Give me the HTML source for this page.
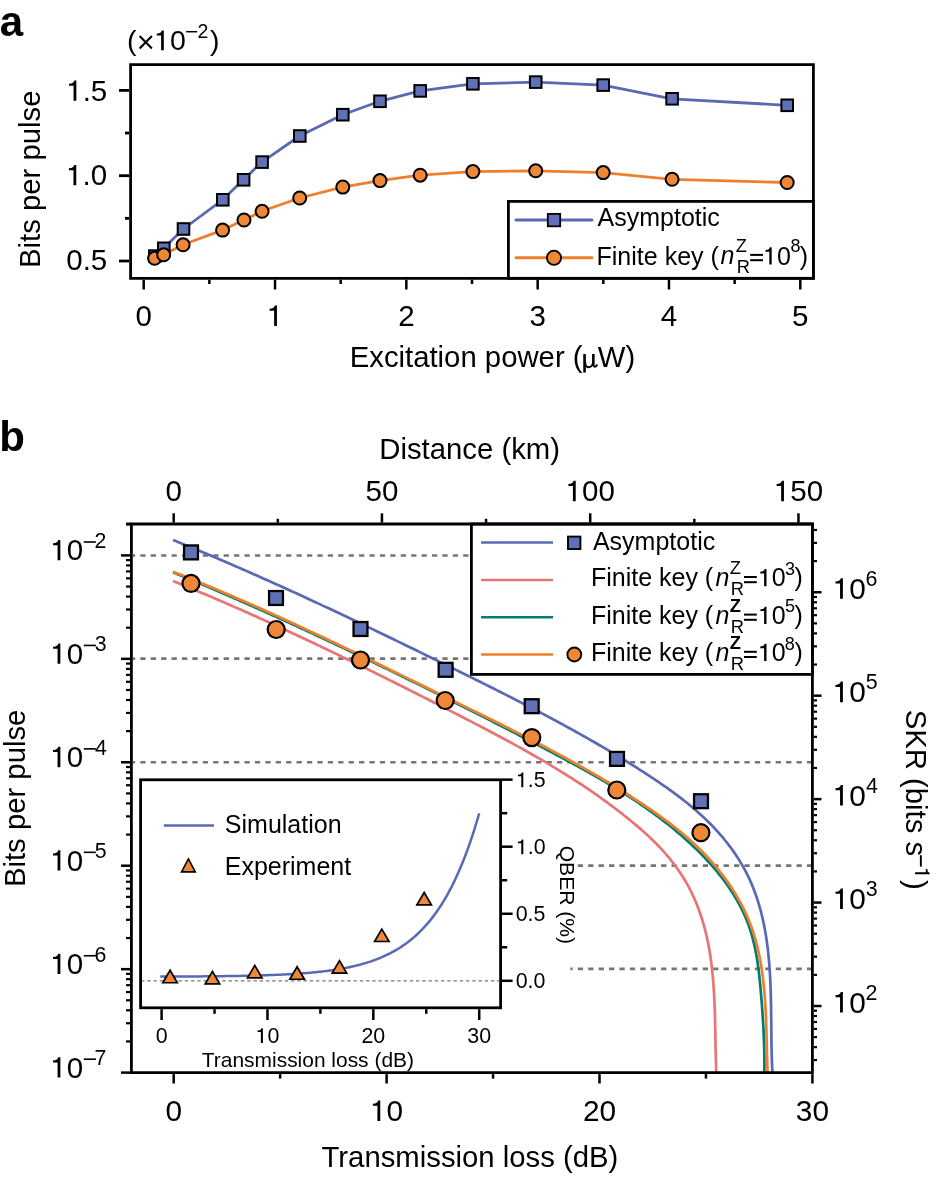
<!DOCTYPE html><html><head><meta charset="utf-8"><title>Figure</title><style>html,body{margin:0;padding:0;background:#fff;overflow:hidden}svg{display:block;will-change:transform}text{font-family:"Liberation Sans",sans-serif;fill:#000}</style></head><body>
<svg width="940" height="1181" viewBox="0 0 940 1181">
<rect width="940" height="1181" fill="#fff"/>
<text x="-0.23" y="36" font-size="42" font-weight="bold">a</text>
<path d="M154.6 256.1 L163.6 248.3 L183.3 229 L222.6 199.8 L243.4 179.8 L261.9 162.1 L299.6 136 L342.6 114.7 L379.8 101.3 L420 90.9 L472.7 83.8 L535.5 82.1 L603 85.1 L671.9 98.8 L787 105.3" fill="none" stroke="#5a69b4" stroke-width="2.8" stroke-linejoin="round"/>
<path d="M154.4 258.3 L163.5 254.8 L182.9 244.8 L222.4 230.1 L243.8 220 L261.9 211.3 L299.5 198 L342.6 187.1 L379.8 180.6 L420 175.2 L472.7 171.6 L535.5 170.8 L603 172.6 L671.9 179.3 L787 182.5" fill="none" stroke="#ee7f2d" stroke-width="2.8" stroke-linejoin="round"/>
<rect x="149" y="250.3" width="11.6" height="11.6" fill="#6271b7" stroke="#000" stroke-width="2"/>
<rect x="158" y="242.5" width="11.6" height="11.6" fill="#6271b7" stroke="#000" stroke-width="2"/>
<rect x="177.7" y="223.2" width="11.6" height="11.6" fill="#6271b7" stroke="#000" stroke-width="2"/>
<rect x="217" y="194" width="11.6" height="11.6" fill="#6271b7" stroke="#000" stroke-width="2"/>
<rect x="237.8" y="174" width="11.6" height="11.6" fill="#6271b7" stroke="#000" stroke-width="2"/>
<rect x="256.3" y="156.3" width="11.6" height="11.6" fill="#6271b7" stroke="#000" stroke-width="2"/>
<rect x="294" y="130.2" width="11.6" height="11.6" fill="#6271b7" stroke="#000" stroke-width="2"/>
<rect x="337" y="108.9" width="11.6" height="11.6" fill="#6271b7" stroke="#000" stroke-width="2"/>
<rect x="374.2" y="95.5" width="11.6" height="11.6" fill="#6271b7" stroke="#000" stroke-width="2"/>
<rect x="414.4" y="85.1" width="11.6" height="11.6" fill="#6271b7" stroke="#000" stroke-width="2"/>
<rect x="467.1" y="78" width="11.6" height="11.6" fill="#6271b7" stroke="#000" stroke-width="2"/>
<rect x="529.9" y="76.3" width="11.6" height="11.6" fill="#6271b7" stroke="#000" stroke-width="2"/>
<rect x="597.4" y="79.3" width="11.6" height="11.6" fill="#6271b7" stroke="#000" stroke-width="2"/>
<rect x="666.3" y="93" width="11.6" height="11.6" fill="#6271b7" stroke="#000" stroke-width="2"/>
<rect x="781.4" y="99.5" width="11.6" height="11.6" fill="#6271b7" stroke="#000" stroke-width="2"/>
<circle cx="154.6" cy="258.3" r="6.5" fill="#ee8737" stroke="#000" stroke-width="2"/>
<circle cx="163.7" cy="254.8" r="6.5" fill="#ee8737" stroke="#000" stroke-width="2"/>
<circle cx="183.1" cy="244.8" r="6.5" fill="#ee8737" stroke="#000" stroke-width="2"/>
<circle cx="222.6" cy="230.1" r="6.5" fill="#ee8737" stroke="#000" stroke-width="2"/>
<circle cx="244" cy="220" r="6.5" fill="#ee8737" stroke="#000" stroke-width="2"/>
<circle cx="262.1" cy="211.3" r="6.5" fill="#ee8737" stroke="#000" stroke-width="2"/>
<circle cx="299.7" cy="198" r="6.5" fill="#ee8737" stroke="#000" stroke-width="2"/>
<circle cx="342.8" cy="187.1" r="6.5" fill="#ee8737" stroke="#000" stroke-width="2"/>
<circle cx="380" cy="180.6" r="6.5" fill="#ee8737" stroke="#000" stroke-width="2"/>
<circle cx="420.2" cy="175.2" r="6.5" fill="#ee8737" stroke="#000" stroke-width="2"/>
<circle cx="472.9" cy="171.6" r="6.5" fill="#ee8737" stroke="#000" stroke-width="2"/>
<circle cx="535.7" cy="170.8" r="6.5" fill="#ee8737" stroke="#000" stroke-width="2"/>
<circle cx="603.2" cy="172.6" r="6.5" fill="#ee8737" stroke="#000" stroke-width="2"/>
<circle cx="672.1" cy="179.3" r="6.5" fill="#ee8737" stroke="#000" stroke-width="2"/>
<circle cx="787.2" cy="182.5" r="6.5" fill="#ee8737" stroke="#000" stroke-width="2"/>
<rect x="508.4" y="201.4" width="305" height="76.9" fill="#fff" stroke="#000" stroke-width="2.8"/>
<line x1="516" y1="220" x2="592" y2="220" stroke="#5a69b4" stroke-width="3" stroke-linecap="round"/>
<rect x="547.8" y="213.9" width="12.4" height="12.4" fill="#6271b7" stroke="#000" stroke-width="1.8"/>
<line x1="516" y1="257.8" x2="592" y2="257.8" stroke="#ee7f2d" stroke-width="3" stroke-linecap="round"/>
<circle cx="554" cy="257.8" r="7.1" fill="#ee8737" stroke="#000" stroke-width="1.8"/>
<text x="597.55" y="226" font-size="25">Asymptotic</text>
<text x="596.55" y="264.6" font-size="25">Finite key (</text>
<text x="720.38" y="264.4" font-size="25" font-style="italic">n</text>
<text x="735.72" y="251.9" font-size="18.3">Z</text>
<text x="736.8" y="272.8" font-size="18.3">R</text>
<rect x="750.2" y="253.9" width="12.8" height="2" fill="#000"/><rect x="750.2" y="259.2" width="12.8" height="2" fill="#000"/>
<path d="M0.248 0H0.343V0.69H0.272C0.258 0.622 0.215 0.588 0.095 0.58V0.512H0.248Z" transform="translate(763.12 264.6) scale(25 -25)"/>
<text x="777.03" y="264.6" font-size="25">0</text>
<text x="790.52" y="252" font-size="18">8</text>
<text x="799.63" y="264.6" font-size="25">)</text>
<path d="M130.6 64.7 H813.4 V278.3 H130.6 Z" fill="none" stroke="#000" stroke-width="2.8" stroke-linejoin="miter"/>
<line x1="143.7" y1="279.7" x2="143.7" y2="289.5" stroke="#000" stroke-width="2.5"/>
<text x="135.5" y="325.9" font-size="29.5">0</text>
<line x1="275.02" y1="279.7" x2="275.02" y2="289.5" stroke="#000" stroke-width="2.5"/>
<path d="M0.248 0H0.343V0.69H0.272C0.258 0.622 0.215 0.588 0.095 0.58V0.512H0.248Z" transform="translate(266.82 325.9) scale(29.5 -29.5)"/>
<line x1="406.34" y1="279.7" x2="406.34" y2="289.5" stroke="#000" stroke-width="2.5"/>
<text x="398.14" y="325.9" font-size="29.5">2</text>
<line x1="537.66" y1="279.7" x2="537.66" y2="289.5" stroke="#000" stroke-width="2.5"/>
<text x="529.46" y="325.9" font-size="29.5">3</text>
<line x1="668.98" y1="279.7" x2="668.98" y2="289.5" stroke="#000" stroke-width="2.5"/>
<text x="660.78" y="325.9" font-size="29.5">4</text>
<line x1="800.3" y1="279.7" x2="800.3" y2="289.5" stroke="#000" stroke-width="2.5"/>
<text x="792.1" y="325.9" font-size="29.5">5</text>
<line x1="209.36" y1="279.7" x2="209.36" y2="284" stroke="#000" stroke-width="2.5"/>
<line x1="340.68" y1="279.7" x2="340.68" y2="284" stroke="#000" stroke-width="2.5"/>
<line x1="472" y1="279.7" x2="472" y2="284" stroke="#000" stroke-width="2.5"/>
<line x1="603.32" y1="279.7" x2="603.32" y2="284" stroke="#000" stroke-width="2.5"/>
<line x1="734.64" y1="279.7" x2="734.64" y2="284" stroke="#000" stroke-width="2.5"/>
<line x1="119" y1="261" x2="129.2" y2="261" stroke="#000" stroke-width="2.8"/>
<text x="66.23" y="270.4" font-size="29.5">0.5</text>
<line x1="119" y1="175.7" x2="129.2" y2="175.7" stroke="#000" stroke-width="2.8"/>
<path d="M0.248 0H0.343V0.69H0.272C0.258 0.622 0.215 0.588 0.095 0.58V0.512H0.248Z" transform="translate(66.14 185.3) scale(29.5 -29.5)"/>
<text x="82.55" y="185.3" font-size="29.5">.0</text>
<line x1="119" y1="90.4" x2="129.2" y2="90.4" stroke="#000" stroke-width="2.8"/>
<path d="M0.248 0H0.343V0.69H0.272C0.258 0.622 0.215 0.588 0.095 0.58V0.512H0.248Z" transform="translate(66.23 100.8) scale(29.5 -29.5)"/>
<text x="82.64" y="100.8" font-size="29.5">.5</text>
<line x1="125" y1="218.35" x2="129.2" y2="218.35" stroke="#000" stroke-width="2.8"/>
<line x1="125" y1="133.05" x2="129.2" y2="133.05" stroke="#000" stroke-width="2.8"/>
<text x="127.03" y="50.2" font-size="28.5">(</text>
<line x1="139.6" y1="36.1" x2="151.9" y2="48.6" stroke="#000" stroke-width="2.1"/>
<line x1="151.9" y1="36.1" x2="139.6" y2="48.6" stroke="#000" stroke-width="2.1"/>
<path d="M0.248 0H0.343V0.69H0.272C0.258 0.622 0.215 0.588 0.095 0.58V0.512H0.248Z" transform="translate(154.04 50.2) scale(28.5 -28.5)"/>
<text x="169.89" y="50.2" font-size="28.5">0</text>
<rect x="186.1" y="30.95" width="11.1" height="1.5" fill="#000"/>
<text x="197.42" y="37.5" font-size="19.5">2</text>
<text x="209.98" y="50.2" font-size="28.5">)</text>
<text x="349.7" y="366.9" font-size="29.3">Excitation power (</text>
<path d="M584.55 353.9V372.6M593.35 353.9V364.8" fill="none" stroke="#000" stroke-width="2.6"/>
<path d="M585.2 362C585.2 366 586.6 367.2 588.4 367.2C590.4 367.2 592.9 365.8 593 362M593.6 364.6C593.8 367.3 595.6 367.6 597.4 364.6" fill="none" stroke="#000" stroke-width="1.9"/>
<text x="597.87" y="366.9" font-size="29.3">W)</text>
<text transform="translate(39.9 268) rotate(-90)" font-size="29.3">Bits per pulse</text>
<text x="-0.77" y="450.8" font-size="42" font-weight="bold">b</text>
<line x1="133" y1="555.5" x2="811" y2="555.5" stroke="#767676" stroke-width="2.6" stroke-dasharray="5.3 5.116" stroke-dashoffset="3.12"/>
<line x1="133" y1="658.6" x2="470" y2="658.6" stroke="#767676" stroke-width="2.6" stroke-dasharray="5.3 5.116" stroke-dashoffset="3.12"/>
<line x1="133" y1="762.2" x2="811" y2="762.2" stroke="#767676" stroke-width="2.6" stroke-dasharray="5.3 5.116" stroke-dashoffset="3.12"/>
<line x1="577.4" y1="865.6" x2="811" y2="865.6" stroke="#767676" stroke-width="2.6" stroke-dasharray="5.3 5.116" stroke-dashoffset="10.04"/>
<line x1="570.3" y1="968.9" x2="811" y2="968.9" stroke="#767676" stroke-width="2.6" stroke-dasharray="5.3 5.116" stroke-dashoffset="2.94"/>
<path d="M172.99 581 L175.46 582 L177.93 583.01 L180.4 584.01 L182.86 585.03 L185.33 586.04 L187.79 587.06 L190.25 588.08 L192.71 589.1 L195.17 590.12 L197.63 591.15 L200.09 592.18 L202.54 593.21 L205 594.25 L207.45 595.29 L209.9 596.33 L212.35 597.37 L214.8 598.42 L217.24 599.47 L219.69 600.52 L222.13 601.57 L224.58 602.63 L227.02 603.69 L229.46 604.75 L231.9 605.81 L234.34 606.88 L236.77 607.95 L239.21 609.02 L241.64 610.1 L244.07 611.17 L246.51 612.25 L248.94 613.33 L251.37 614.41 L253.79 615.5 L256.22 616.59 L258.65 617.68 L261.07 618.77 L263.5 619.86 L265.92 620.96 L268.34 622.06 L270.76 623.16 L273.18 624.27 L275.6 625.37 L278.01 626.48 L280.43 627.59 L282.85 628.7 L285.26 629.81 L287.67 630.93 L290.08 632.05 L292.5 633.17 L294.91 634.29 L297.31 635.42 L299.72 636.54 L302.13 637.67 L304.54 638.8 L306.94 639.93 L309.35 641.07 L311.75 642.2 L314.15 643.34 L316.55 644.48 L318.95 645.62 L321.35 646.76 L323.75 647.91 L326.15 649.05 L328.55 650.2 L330.94 651.35 L333.34 652.5 L335.73 653.66 L338.13 654.81 L340.52 655.97 L342.91 657.13 L345.31 658.29 L347.7 659.45 L350.09 660.61 L352.48 661.78 L354.87 662.94 L357.25 664.11 L359.64 665.28 L362.03 666.45 L364.41 667.63 L366.8 668.8 L369.18 669.98 L371.57 671.15 L373.95 672.33 L376.33 673.51 L378.72 674.69 L381.1 675.87 L383.48 677.06 L385.86 678.24 L388.24 679.43 L390.62 680.62 L393 681.8 L395.38 682.99 L397.75 684.19 L400.13 685.38 L402.51 686.57 L404.88 687.77 L407.26 688.96 L409.63 690.16 L412.01 691.36 L414.38 692.56 L416.76 693.76 L419.13 694.96 L421.5 696.16 L423.88 697.36 L426.25 698.57 L428.62 699.77 L430.99 700.98 L433.36 702.19 L435.73 703.4 L438.1 704.61 L440.47 705.82 L442.84 707.03 L445.21 708.24 L447.58 709.45 L449.95 710.67 L452.32 711.88 L454.69 713.1 L457.06 714.31 L459.42 715.53 L461.79 716.75 L464.16 717.97 L466.52 719.19 L468.89 720.41 L471.25 721.63 L473.62 722.86 L475.98 724.08 L478.34 725.31 L480.7 726.54 L483.06 727.78 L485.42 729.01 L487.78 730.25 L490.13 731.49 L492.49 732.74 L494.84 733.98 L497.19 735.23 L499.53 736.49 L501.88 737.75 L504.22 739.01 L506.56 740.27 L508.9 741.54 L511.24 742.81 L513.58 744.09 L515.91 745.37 L518.24 746.65 L520.56 747.94 L522.89 749.23 L525.21 750.53 L527.52 751.84 L529.84 753.15 L532.15 754.46 L534.46 755.78 L536.76 757.1 L539.06 758.43 L541.36 759.77 L543.66 761.11 L545.95 762.46 L548.23 763.81 L550.52 765.17 L552.79 766.54 L555.07 767.92 L557.34 769.3 L559.6 770.68 L561.87 772.08 L564.12 773.48 L566.37 774.89 L568.62 776.3 L570.86 777.73 L573.1 779.16 L575.34 780.6 L577.56 782.05 L579.79 783.5 L582 784.96 L584.22 786.44 L586.42 787.92 L588.63 789.41 L590.82 790.9 L593.01 792.41 L595.2 793.93 L597.37 795.45 L599.55 796.99 L601.71 798.53 L603.87 800.09 L606.03 801.65 L608.18 803.22 L610.32 804.81 L612.45 806.4 L614.58 808.01 L616.7 809.62 L618.82 811.25 L620.93 812.88 L623.03 814.53 L625.12 816.19 L627.21 817.86 L629.29 819.54 L631.36 821.23 L633.42 822.94 L635.48 824.65 L637.52 826.39 L639.55 828.13 L641.57 829.89 L643.57 831.66 L645.56 833.45 L647.53 835.26 L649.49 837.08 L651.42 838.93 L653.34 840.78 L655.24 842.66 L657.11 844.56 L658.96 846.48 L660.79 848.42 L662.59 850.38 L664.37 852.36 L666.12 854.36 L667.84 856.39 L669.54 858.43 L671.2 860.5 L672.84 862.59 L674.44 864.7 L676.02 866.83 L677.56 868.99 L679.07 871.16 L680.55 873.36 L682 875.58 L683.41 877.81 L684.79 880.07 L686.13 882.35 L687.43 884.65 L688.7 886.97 L689.93 889.31 L691.13 891.67 L692.29 894.05 L693.41 896.45 L694.49 898.86 L695.54 901.3 L696.55 903.75 L697.53 906.21 L698.48 908.69 L699.39 911.18 L700.27 913.69 L701.11 916.21 L701.92 918.74 L702.7 921.28 L703.45 923.83 L704.17 926.4 L704.86 928.97 L705.52 931.54 L706.15 934.13 L706.75 936.72 L707.32 939.32 L707.86 941.92 L708.38 944.54 L708.87 947.15 L709.34 949.77 L709.78 952.4 L710.2 955.03 L710.59 957.67 L710.96 960.31 L711.31 962.96 L711.65 965.61 L711.96 968.26 L712.25 970.92 L712.52 973.58 L712.77 976.24 L713.01 978.9 L713.23 981.57 L713.44 984.24 L713.63 986.91 L713.81 989.59 L713.97 992.26 L714.12 994.94 L714.26 997.61 L714.38 1000.29 L714.5 1002.97 L714.61 1005.65 L714.71 1008.32 L714.8 1011 L714.88 1013.68 L714.96 1016.36 L715.02 1019.03 L715.09 1021.7 L715.15 1024.38 L715.2 1027.05 L715.26 1029.71 L715.31 1032.38 L715.36 1035.04 L715.41 1037.7 L715.45 1040.36 L715.5 1043.01 L715.55 1045.66 L715.6 1048.31 L715.66 1050.95 L715.72 1053.58 L715.78 1056.22 L715.85 1058.84 L715.92 1061.47 L716 1064.08 L716.09 1066.69 L716.18 1069.3 L716.29 1071.9" fill="none" stroke="#e87575" stroke-width="2.7" stroke-linejoin="round"/>
<path d="M173.01 572.29 L175.59 573.35 L178.17 574.42 L180.75 575.48 L183.33 576.55 L185.9 577.62 L188.48 578.7 L191.05 579.78 L193.63 580.86 L196.2 581.94 L198.77 583.02 L201.34 584.11 L203.92 585.2 L206.48 586.29 L209.05 587.38 L211.62 588.48 L214.19 589.58 L216.75 590.68 L219.32 591.78 L221.88 592.89 L224.45 594 L227.01 595.11 L229.57 596.22 L232.13 597.33 L234.69 598.45 L237.25 599.57 L239.81 600.69 L242.37 601.81 L244.92 602.94 L247.48 604.06 L250.03 605.19 L252.59 606.33 L255.14 607.46 L257.69 608.6 L260.24 609.73 L262.79 610.87 L265.34 612.02 L267.89 613.16 L270.44 614.31 L272.99 615.45 L275.53 616.6 L278.08 617.76 L280.62 618.91 L283.17 620.06 L285.71 621.22 L288.25 622.38 L290.79 623.54 L293.33 624.71 L295.87 625.87 L298.41 627.04 L300.95 628.21 L303.49 629.38 L306.03 630.55 L308.56 631.72 L311.1 632.9 L313.63 634.08 L316.16 635.25 L318.7 636.44 L321.23 637.62 L323.76 638.8 L326.29 639.99 L328.82 641.18 L331.35 642.36 L333.88 643.55 L336.4 644.75 L338.93 645.94 L341.46 647.14 L343.98 648.33 L346.51 649.53 L349.03 650.73 L351.55 651.93 L354.07 653.14 L356.59 654.34 L359.11 655.54 L361.63 656.75 L364.15 657.96 L366.67 659.17 L369.19 660.38 L371.71 661.59 L374.22 662.81 L376.74 664.02 L379.25 665.24 L381.77 666.46 L384.28 667.68 L386.79 668.9 L389.3 670.12 L391.81 671.34 L394.32 672.57 L396.83 673.79 L399.34 675.02 L401.85 676.25 L404.36 677.48 L406.87 678.71 L409.37 679.94 L411.88 681.17 L414.38 682.4 L416.89 683.64 L419.39 684.87 L421.89 686.11 L424.39 687.35 L426.89 688.59 L429.4 689.83 L431.9 691.07 L434.39 692.31 L436.89 693.55 L439.39 694.79 L441.89 696.04 L444.38 697.28 L446.88 698.53 L449.38 699.78 L451.87 701.03 L454.36 702.28 L456.86 703.53 L459.35 704.78 L461.84 706.03 L464.33 707.28 L466.83 708.54 L469.32 709.8 L471.81 711.05 L474.3 712.31 L476.78 713.57 L479.27 714.83 L481.76 716.1 L484.25 717.36 L486.73 718.63 L489.22 719.89 L491.7 721.16 L494.19 722.43 L496.67 723.7 L499.16 724.97 L501.64 726.25 L504.12 727.52 L506.61 728.8 L509.09 730.08 L511.57 731.36 L514.05 732.64 L516.53 733.92 L519.01 735.21 L521.49 736.5 L523.97 737.78 L526.45 739.07 L528.93 740.37 L531.41 741.66 L533.88 742.96 L536.36 744.25 L538.84 745.55 L541.31 746.85 L543.79 748.16 L546.27 749.46 L548.74 750.77 L551.22 752.08 L553.69 753.39 L556.16 754.7 L558.64 756.02 L561.11 757.34 L563.58 758.66 L566.05 759.99 L568.51 761.32 L570.98 762.65 L573.44 763.99 L575.9 765.33 L578.36 766.68 L580.81 768.03 L583.26 769.39 L585.71 770.76 L588.15 772.13 L590.59 773.5 L593.03 774.88 L595.46 776.27 L597.89 777.67 L600.31 779.07 L602.73 780.48 L605.14 781.9 L607.55 783.33 L609.95 784.76 L612.34 786.2 L614.73 787.65 L617.12 789.12 L619.49 790.59 L621.86 792.06 L624.23 793.55 L626.58 795.05 L628.93 796.56 L631.27 798.08 L633.61 799.61 L635.93 801.16 L638.25 802.71 L640.56 804.27 L642.86 805.85 L645.16 807.44 L647.44 809.04 L649.71 810.66 L651.98 812.28 L654.23 813.92 L656.48 815.58 L658.71 817.24 L660.94 818.92 L663.15 820.62 L665.35 822.33 L667.55 824.05 L669.73 825.79 L671.9 827.55 L674.05 829.32 L676.2 831.11 L678.33 832.91 L680.46 834.73 L682.56 836.56 L684.66 838.41 L686.74 840.28 L688.82 842.17 L690.87 844.07 L692.92 845.99 L694.95 847.93 L696.96 849.89 L698.96 851.87 L700.94 853.86 L702.91 855.88 L704.85 857.91 L706.78 859.96 L708.68 862.03 L710.56 864.11 L712.42 866.22 L714.26 868.34 L716.07 870.49 L717.86 872.65 L719.61 874.83 L721.34 877.03 L723.05 879.25 L724.72 881.49 L726.36 883.75 L727.97 886.02 L729.55 888.32 L731.09 890.64 L732.6 892.97 L734.07 895.33 L735.51 897.7 L736.9 900.1 L738.26 902.51 L739.58 904.95 L740.86 907.4 L742.1 909.87 L743.29 912.37 L744.44 914.88 L745.55 917.42 L746.61 919.97 L747.62 922.55 L748.59 925.14 L749.51 927.76 L750.38 930.4 L751.2 933.05 L751.98 935.72 L752.71 938.41 L753.4 941.12 L754.06 943.84 L754.67 946.57 L755.25 949.32 L755.79 952.08 L756.31 954.84 L756.79 957.62 L757.24 960.41 L757.66 963.2 L758.06 966 L758.44 968.8 L758.79 971.61 L759.12 974.42 L759.44 977.23 L759.73 980.04 L760.01 982.85 L760.28 985.66 L760.54 988.47 L760.79 991.28 L761.02 994.08 L761.26 996.87 L761.48 999.66 L761.7 1002.44 L761.92 1005.22 L762.12 1007.99 L762.32 1010.76 L762.51 1013.53 L762.7 1016.29 L762.88 1019.06 L763.05 1021.82 L763.21 1024.58 L763.36 1027.34 L763.5 1030.1 L763.63 1032.86 L763.75 1035.63 L763.87 1038.39 L763.97 1041.16 L764.06 1043.94 L764.14 1046.71 L764.21 1049.49 L764.27 1052.28 L764.31 1055.07 L764.35 1057.87 L764.37 1060.68 L764.37 1063.49 L764.37 1066.32 L764.35 1069.15 L764.32 1071.99" fill="none" stroke="#007d73" stroke-width="2.7" stroke-linejoin="round"/>
<path d="M172.99 571.7 L175.6 572.73 L178.21 573.76 L180.82 574.8 L183.43 575.84 L186.04 576.89 L188.64 577.93 L191.24 578.99 L193.84 580.04 L196.44 581.1 L199.04 582.17 L201.63 583.23 L204.22 584.3 L206.82 585.38 L209.41 586.46 L211.99 587.54 L214.58 588.62 L217.16 589.71 L219.75 590.8 L222.33 591.9 L224.91 593 L227.48 594.1 L230.06 595.2 L232.64 596.31 L235.21 597.42 L237.78 598.54 L240.35 599.66 L242.92 600.78 L245.49 601.9 L248.05 603.03 L250.62 604.16 L253.18 605.29 L255.74 606.43 L258.3 607.56 L260.86 608.71 L263.42 609.85 L265.98 611 L268.53 612.15 L271.08 613.3 L273.64 614.45 L276.19 615.61 L278.74 616.77 L281.29 617.93 L283.84 619.1 L286.38 620.26 L288.93 621.43 L291.47 622.6 L294.02 623.78 L296.56 624.95 L299.1 626.13 L301.64 627.31 L304.18 628.5 L306.72 629.68 L309.26 630.87 L311.79 632.06 L314.33 633.25 L316.86 634.44 L319.4 635.64 L321.93 636.83 L324.46 638.03 L327 639.23 L329.53 640.43 L332.06 641.64 L334.58 642.84 L337.11 644.05 L339.64 645.26 L342.17 646.47 L344.69 647.68 L347.22 648.89 L349.74 650.11 L352.27 651.33 L354.79 652.54 L357.32 653.76 L359.84 654.98 L362.36 656.2 L364.88 657.43 L367.4 658.65 L369.92 659.87 L372.44 661.1 L374.96 662.33 L377.48 663.55 L380 664.78 L382.52 666.01 L385.04 667.24 L387.56 668.48 L390.07 669.71 L392.59 670.94 L395.11 672.18 L397.62 673.41 L400.14 674.65 L402.66 675.88 L405.17 677.12 L407.69 678.35 L410.2 679.59 L412.72 680.83 L415.23 682.07 L417.75 683.31 L420.26 684.55 L422.78 685.79 L425.29 687.03 L427.81 688.27 L430.32 689.51 L432.84 690.75 L435.35 691.99 L437.87 693.23 L440.38 694.47 L442.9 695.71 L445.41 696.95 L447.93 698.19 L450.44 699.43 L452.96 700.67 L455.47 701.91 L457.99 703.15 L460.51 704.39 L463.02 705.63 L465.54 706.87 L468.06 708.11 L470.57 709.35 L473.09 710.59 L475.6 711.83 L478.12 713.08 L480.63 714.32 L483.15 715.56 L485.66 716.81 L488.17 718.05 L490.68 719.3 L493.2 720.55 L495.71 721.8 L498.22 723.05 L500.73 724.31 L503.23 725.56 L505.74 726.82 L508.25 728.08 L510.75 729.34 L513.25 730.61 L515.75 731.88 L518.25 733.14 L520.75 734.42 L523.25 735.69 L525.75 736.97 L528.24 738.25 L530.73 739.53 L533.22 740.82 L535.71 742.11 L538.2 743.41 L540.68 744.7 L543.16 746 L545.64 747.31 L548.12 748.62 L550.59 749.93 L553.07 751.25 L555.54 752.57 L558 753.89 L560.47 755.22 L562.93 756.56 L565.39 757.9 L567.85 759.24 L570.3 760.59 L572.75 761.95 L575.2 763.31 L577.65 764.67 L580.09 766.04 L582.53 767.42 L584.96 768.8 L587.4 770.18 L589.82 771.58 L592.25 772.98 L594.67 774.38 L597.09 775.79 L599.5 777.21 L601.91 778.63 L604.32 780.06 L606.72 781.5 L609.12 782.94 L611.52 784.39 L613.91 785.85 L616.3 787.32 L618.68 788.79 L621.06 790.27 L623.43 791.76 L625.8 793.25 L628.16 794.75 L630.52 796.26 L632.88 797.78 L635.23 799.31 L637.58 800.84 L639.92 802.38 L642.26 803.93 L644.59 805.49 L646.91 807.06 L649.23 808.64 L651.55 810.22 L653.85 811.82 L656.15 813.43 L658.44 815.05 L660.72 816.69 L662.99 818.34 L665.25 820 L667.5 821.67 L669.74 823.36 L671.97 825.07 L674.18 826.79 L676.38 828.53 L678.57 830.29 L680.74 832.07 L682.9 833.86 L685.04 835.67 L687.17 837.51 L689.27 839.36 L691.36 841.24 L693.44 843.13 L695.49 845.05 L697.52 847 L699.54 848.96 L701.53 850.95 L703.5 852.95 L705.45 854.98 L707.38 857.03 L709.28 859.1 L711.16 861.2 L713.02 863.31 L714.85 865.44 L716.65 867.6 L718.43 869.77 L720.18 871.97 L721.91 874.18 L723.6 876.41 L725.27 878.67 L726.91 880.94 L728.52 883.23 L730.09 885.54 L731.64 887.87 L733.15 890.22 L734.63 892.59 L736.08 894.98 L737.5 897.38 L738.88 899.8 L740.22 902.24 L741.53 904.7 L742.8 907.17 L744.04 909.67 L745.24 912.17 L746.4 914.7 L747.52 917.24 L748.6 919.8 L749.64 922.38 L750.65 924.97 L751.61 927.58 L752.53 930.2 L753.4 932.84 L754.24 935.5 L755.04 938.16 L755.81 940.84 L756.53 943.54 L757.23 946.24 L757.88 948.96 L758.51 951.69 L759.1 954.43 L759.66 957.18 L760.19 959.93 L760.69 962.7 L761.16 965.47 L761.6 968.25 L762.02 971.04 L762.41 973.84 L762.78 976.64 L763.12 979.44 L763.44 982.25 L763.74 985.06 L764.02 987.88 L764.28 990.7 L764.52 993.52 L764.74 996.34 L764.95 999.17 L765.14 1001.99 L765.31 1004.81 L765.48 1007.64 L765.63 1010.46 L765.76 1013.28 L765.89 1016.11 L766.01 1018.93 L766.11 1021.75 L766.21 1024.57 L766.3 1027.38 L766.39 1030.2 L766.47 1033.01 L766.54 1035.82 L766.61 1038.62 L766.68 1041.42 L766.75 1044.22 L766.82 1047.02 L766.88 1049.81 L766.95 1052.59 L767.02 1055.37 L767.09 1058.15 L767.17 1060.92 L767.25 1063.68 L767.34 1066.44 L767.43 1069.19 L767.54 1071.94" fill="none" stroke="#ee7f2d" stroke-width="2.7" stroke-linejoin="round"/>
<path d="M173.02 539.99 L175.72 541.08 L178.43 542.18 L181.13 543.28 L183.83 544.39 L186.53 545.49 L189.23 546.61 L191.93 547.72 L194.63 548.84 L197.32 549.96 L200.02 551.08 L202.71 552.21 L205.4 553.34 L208.09 554.47 L210.78 555.6 L213.47 556.74 L216.16 557.88 L218.85 559.03 L221.53 560.18 L224.22 561.33 L226.9 562.48 L229.58 563.63 L232.26 564.79 L234.94 565.95 L237.62 567.12 L240.3 568.28 L242.98 569.45 L245.65 570.62 L248.33 571.8 L251 572.97 L253.67 574.15 L256.34 575.34 L259.01 576.52 L261.68 577.71 L264.35 578.9 L267.02 580.09 L269.69 581.28 L272.35 582.48 L275.02 583.68 L277.68 584.88 L280.34 586.08 L283 587.29 L285.67 588.49 L288.33 589.7 L290.98 590.91 L293.64 592.13 L296.3 593.34 L298.96 594.56 L301.61 595.78 L304.27 597.01 L306.92 598.23 L309.57 599.46 L312.22 600.68 L314.87 601.91 L317.52 603.15 L320.17 604.38 L322.82 605.61 L325.47 606.85 L328.12 608.09 L330.76 609.33 L333.41 610.57 L336.05 611.82 L338.7 613.06 L341.34 614.31 L343.98 615.56 L346.63 616.81 L349.27 618.06 L351.91 619.32 L354.55 620.57 L357.18 621.83 L359.82 623.09 L362.46 624.35 L365.1 625.61 L367.73 626.87 L370.37 628.13 L373 629.4 L375.64 630.66 L378.27 631.93 L380.9 633.2 L383.53 634.47 L386.17 635.74 L388.8 637.01 L391.43 638.29 L394.06 639.56 L396.69 640.84 L399.31 642.11 L401.94 643.39 L404.57 644.67 L407.2 645.95 L409.82 647.23 L412.45 648.51 L415.07 649.79 L417.7 651.07 L420.32 652.36 L422.95 653.64 L425.57 654.92 L428.19 656.21 L430.82 657.5 L433.44 658.78 L436.06 660.07 L438.68 661.36 L441.3 662.65 L443.92 663.94 L446.54 665.23 L449.16 666.52 L451.78 667.81 L454.4 669.1 L457.01 670.39 L459.63 671.69 L462.25 672.98 L464.86 674.27 L467.48 675.57 L470.1 676.86 L472.71 678.16 L475.32 679.45 L477.94 680.75 L480.55 682.05 L483.16 683.35 L485.77 684.66 L488.38 685.96 L490.99 687.27 L493.6 688.57 L496.21 689.88 L498.81 691.2 L501.42 692.51 L504.02 693.83 L506.62 695.14 L509.22 696.46 L511.82 697.79 L514.42 699.11 L517.02 700.44 L519.61 701.77 L522.21 703.11 L524.8 704.44 L527.39 705.78 L529.98 707.13 L532.57 708.47 L535.15 709.82 L537.74 711.18 L540.32 712.53 L542.9 713.89 L545.48 715.26 L548.05 716.63 L550.63 718 L553.2 719.37 L555.77 720.75 L558.34 722.14 L560.9 723.53 L563.47 724.92 L566.03 726.32 L568.59 727.72 L571.15 729.13 L573.7 730.54 L576.25 731.96 L578.8 733.38 L581.35 734.81 L583.89 736.24 L586.44 737.68 L588.98 739.12 L591.51 740.57 L594.05 742.03 L596.58 743.49 L599.11 744.96 L601.63 746.43 L604.15 747.91 L606.67 749.39 L609.19 750.88 L611.7 752.38 L614.21 753.88 L616.72 755.39 L619.23 756.91 L621.73 758.43 L624.22 759.97 L626.72 761.5 L629.21 763.05 L631.7 764.6 L634.18 766.16 L636.66 767.72 L639.14 769.3 L641.61 770.88 L644.08 772.47 L646.55 774.07 L649.01 775.67 L651.46 777.29 L653.91 778.91 L656.36 780.55 L658.79 782.19 L661.22 783.85 L663.63 785.52 L666.04 787.2 L668.44 788.9 L670.82 790.61 L673.2 792.34 L675.56 794.08 L677.9 795.84 L680.24 797.61 L682.55 799.4 L684.86 801.21 L687.14 803.04 L689.41 804.88 L691.66 806.75 L693.89 808.63 L696.1 810.54 L698.3 812.47 L700.47 814.42 L702.62 816.39 L704.74 818.39 L706.85 820.41 L708.93 822.45 L710.98 824.52 L713.01 826.62 L715.02 828.74 L716.99 830.89 L718.94 833.07 L720.86 835.27 L722.75 837.49 L724.61 839.74 L726.44 842.02 L728.24 844.32 L730 846.65 L731.73 849 L733.42 851.37 L735.07 853.77 L736.69 856.19 L738.27 858.64 L739.81 861.11 L741.31 863.6 L742.77 866.12 L744.18 868.65 L745.56 871.21 L746.89 873.8 L748.17 876.4 L749.41 879.02 L750.6 881.67 L751.75 884.34 L752.86 887.02 L753.92 889.73 L754.94 892.45 L755.92 895.18 L756.86 897.94 L757.76 900.7 L758.63 903.48 L759.45 906.28 L760.24 909.09 L760.99 911.9 L761.7 914.73 L762.38 917.57 L763.03 920.42 L763.65 923.27 L764.23 926.13 L764.78 929 L765.29 931.88 L765.78 934.76 L766.24 937.64 L766.68 940.53 L767.08 943.43 L767.46 946.33 L767.82 949.23 L768.15 952.14 L768.45 955.05 L768.74 957.97 L769 960.89 L769.25 963.81 L769.47 966.74 L769.67 969.67 L769.86 972.6 L770.03 975.53 L770.19 978.46 L770.33 981.4 L770.45 984.34 L770.57 987.28 L770.67 990.22 L770.76 993.16 L770.84 996.1 L770.91 999.04 L770.97 1001.98 L771.03 1004.93 L771.07 1007.87 L771.12 1010.81 L771.15 1013.74 L771.19 1016.68 L771.22 1019.62 L771.25 1022.55 L771.28 1025.48 L771.31 1028.41 L771.34 1031.34 L771.37 1034.26 L771.41 1037.18 L771.44 1040.1 L771.49 1043.02 L771.54 1045.93 L771.59 1048.83 L771.65 1051.73 L771.73 1054.63 L771.81 1057.52 L771.9 1060.41 L772 1063.29 L772.11 1066.17 L772.24 1069.04 L772.38 1071.9" fill="none" stroke="#5a69b4" stroke-width="2.7" stroke-linejoin="round"/>
<rect x="184.05" y="545.45" width="13.9" height="13.9" fill="#6271b7" stroke="#000" stroke-width="2.3"/>
<rect x="269.05" y="591.05" width="13.9" height="13.9" fill="#6271b7" stroke="#000" stroke-width="2.3"/>
<rect x="353.55" y="622.05" width="13.9" height="13.9" fill="#6271b7" stroke="#000" stroke-width="2.3"/>
<rect x="438.65" y="662.85" width="13.9" height="13.9" fill="#6271b7" stroke="#000" stroke-width="2.3"/>
<rect x="524.75" y="699.25" width="13.9" height="13.9" fill="#6271b7" stroke="#000" stroke-width="2.3"/>
<rect x="610.05" y="751.95" width="13.9" height="13.9" fill="#6271b7" stroke="#000" stroke-width="2.3"/>
<rect x="694.05" y="794.25" width="13.9" height="13.9" fill="#6271b7" stroke="#000" stroke-width="2.3"/>
<circle cx="191" cy="583.4" r="8.5" fill="#ee8737" stroke="#000" stroke-width="2.2"/>
<circle cx="276.2" cy="629.5" r="8.5" fill="#ee8737" stroke="#000" stroke-width="2.2"/>
<circle cx="360.5" cy="660" r="8.5" fill="#ee8737" stroke="#000" stroke-width="2.2"/>
<circle cx="445.2" cy="700.5" r="8.5" fill="#ee8737" stroke="#000" stroke-width="2.2"/>
<circle cx="531.8" cy="737.6" r="8.5" fill="#ee8737" stroke="#000" stroke-width="2.2"/>
<circle cx="616.8" cy="790" r="8.5" fill="#ee8737" stroke="#000" stroke-width="2.2"/>
<circle cx="700.9" cy="832.7" r="8.5" fill="#ee8737" stroke="#000" stroke-width="2.2"/>
<rect x="471.4" y="524" width="341" height="150.4" fill="#fff" stroke="#000" stroke-width="2.8"/>
<line x1="481.1" y1="542.6" x2="553" y2="542.6" stroke="#5a69b4" stroke-width="2.5"/>
<line x1="481.1" y1="580" x2="553" y2="580" stroke="#e87575" stroke-width="2.5"/>
<line x1="481.1" y1="617.2" x2="553" y2="617.2" stroke="#007d73" stroke-width="2.5"/>
<line x1="481.1" y1="654.6" x2="553" y2="654.6" stroke="#ee7f2d" stroke-width="2.5"/>
<rect x="568" y="536.6" width="12.4" height="12.4" fill="#6271b7" stroke="#000" stroke-width="1.9"/>
<circle cx="574.3" cy="654.5" r="6.95" fill="#ee8737" stroke="#000" stroke-width="1.9"/>
<text x="592.95" y="549.9" font-size="25">Asymptotic</text>
<text x="590.95" y="586.3" font-size="25">Finite key (</text>
<text x="715.38" y="585.9" font-size="25" font-style="italic">n</text>
<text x="729.82" y="573.9" font-size="18.3">Z</text>
<text x="730.8" y="594.9" font-size="18.3">R</text>
<rect x="744" y="576" width="12.8" height="2" fill="#000"/><rect x="744" y="581.2" width="12.8" height="2" fill="#000"/>
<path d="M0.248 0H0.343V0.69H0.272C0.258 0.622 0.215 0.588 0.095 0.58V0.512H0.248Z" transform="translate(757.92 586.3) scale(25 -25)"/>
<text x="771.83" y="586.3" font-size="25">0</text>
<text x="784.91" y="574.7" font-size="18">3</text>
<text x="794.43" y="586.3" font-size="25">)</text>
<text x="590.95" y="623.9" font-size="25">Finite key (</text>
<text x="715.38" y="623.5" font-size="25" font-style="italic">n</text>
<text x="729.85" y="611.5" font-size="18.3" font-weight="bold">Z</text>
<text x="730.8" y="632.5" font-size="18.3">R</text>
<rect x="744" y="613.6" width="12.8" height="2" fill="#000"/><rect x="744" y="618.8" width="12.8" height="2" fill="#000"/>
<path d="M0.248 0H0.343V0.69H0.272C0.258 0.622 0.215 0.588 0.095 0.58V0.512H0.248Z" transform="translate(757.92 623.9) scale(25 -25)"/>
<text x="771.83" y="623.9" font-size="25">0</text>
<text x="784.88" y="612.3" font-size="18">5</text>
<text x="794.43" y="623.9" font-size="25">)</text>
<text x="590.95" y="661.1" font-size="25">Finite key (</text>
<text x="715.38" y="660.7" font-size="25" font-style="italic">n</text>
<text x="729.85" y="648.7" font-size="18.3" font-weight="bold">Z</text>
<text x="730.8" y="669.7" font-size="18.3">R</text>
<rect x="744" y="650.8" width="12.8" height="2" fill="#000"/><rect x="744" y="656" width="12.8" height="2" fill="#000"/>
<path d="M0.248 0H0.343V0.69H0.272C0.258 0.622 0.215 0.588 0.095 0.58V0.512H0.248Z" transform="translate(757.92 661.1) scale(25 -25)"/>
<text x="771.83" y="661.1" font-size="25">0</text>
<text x="784.82" y="649.5" font-size="18">8</text>
<text x="794.43" y="661.1" font-size="25">)</text>
<rect x="140.6" y="779.8" width="360" height="228" fill="#fff" stroke="#000" stroke-width="2.8"/>
<line x1="142" y1="980.8" x2="499.2" y2="980.8" stroke="#767676" stroke-width="1.3" stroke-dasharray="3.4 2.85" stroke-dashoffset="1"/>
<path d="M160.22 976.61 L161.83 976.6 L163.43 976.6 L165.03 976.59 L166.64 976.59 L168.24 976.58 L169.84 976.57 L171.44 976.57 L173.05 976.56 L174.65 976.55 L176.25 976.55 L177.86 976.54 L179.46 976.53 L181.06 976.52 L182.66 976.51 L184.27 976.5 L185.87 976.5 L187.47 976.49 L189.08 976.48 L190.68 976.47 L192.28 976.46 L193.89 976.45 L195.49 976.43 L197.09 976.42 L198.69 976.41 L200.3 976.4 L201.9 976.38 L203.5 976.37 L205.11 976.36 L206.71 976.34 L208.31 976.33 L209.92 976.31 L211.52 976.3 L213.12 976.28 L214.72 976.26 L216.33 976.25 L217.93 976.23 L219.53 976.21 L221.14 976.19 L222.74 976.17 L224.34 976.15 L225.94 976.12 L227.55 976.1 L229.15 976.08 L230.75 976.05 L232.36 976.03 L233.96 976 L235.56 975.98 L237.17 975.95 L238.77 975.92 L240.37 975.89 L241.97 975.86 L243.58 975.82 L245.18 975.79 L246.78 975.76 L248.39 975.72 L249.99 975.68 L251.59 975.64 L253.19 975.6 L254.8 975.56 L256.4 975.52 L258 975.48 L259.61 975.43 L261.21 975.38 L262.81 975.33 L264.42 975.28 L266.02 975.23 L267.62 975.17 L269.22 975.12 L270.83 975.06 L272.43 975 L274.03 974.93 L275.64 974.87 L277.24 974.8 L278.84 974.73 L280.44 974.66 L282.05 974.58 L283.65 974.5 L285.25 974.42 L286.86 974.34 L288.46 974.25 L290.06 974.16 L291.67 974.07 L293.27 973.97 L294.87 973.87 L296.47 973.77 L298.08 973.66 L299.68 973.55 L301.28 973.43 L302.89 973.32 L304.49 973.19 L306.09 973.06 L307.69 972.93 L309.3 972.79 L310.9 972.65 L312.5 972.5 L314.11 972.35 L315.71 972.19 L317.31 972.03 L318.92 971.86 L320.52 971.68 L322.12 971.5 L323.72 971.31 L325.33 971.12 L326.93 970.91 L328.53 970.7 L330.14 970.49 L331.74 970.26 L333.34 970.03 L334.94 969.79 L336.55 969.54 L338.15 969.28 L339.75 969.01 L341.36 968.73 L342.96 968.44 L344.56 968.14 L346.17 967.83 L347.77 967.51 L349.37 967.18 L350.97 966.84 L352.58 966.48 L354.18 966.11 L355.78 965.73 L357.39 965.33 L358.99 964.92 L360.59 964.5 L362.19 964.06 L363.8 963.6 L365.4 963.13 L367 962.64 L368.61 962.14 L370.21 961.61 L371.81 961.07 L373.42 960.51 L375.02 959.93 L376.62 959.32 L378.22 958.7 L379.83 958.05 L381.43 957.38 L383.03 956.68 L384.64 955.96 L386.24 955.22 L387.84 954.45 L389.45 953.65 L391.05 952.82 L392.65 951.96 L394.25 951.08 L395.86 950.16 L397.46 949.2 L399.06 948.22 L400.67 947.2 L402.27 946.14 L403.87 945.04 L405.47 943.91 L407.08 942.73 L408.68 941.52 L410.28 940.26 L411.89 938.95 L413.49 937.6 L415.09 936.2 L416.7 934.75 L418.3 933.25 L419.9 931.7 L421.5 930.09 L423.11 928.43 L424.71 926.7 L426.31 924.92 L427.92 923.07 L429.52 921.15 L431.12 919.17 L432.72 917.12 L434.33 915 L435.93 912.8 L437.53 910.52 L439.14 908.16 L440.74 905.72 L442.34 903.2 L443.95 900.58 L445.55 897.88 L447.15 895.08 L448.75 892.18 L450.36 889.18 L451.96 886.07 L453.56 882.86 L455.17 879.53 L456.77 876.09 L458.37 872.52 L459.97 868.84 L461.58 865.02 L463.18 861.07 L464.78 856.99 L466.39 852.76 L467.99 848.39 L469.59 843.87 L471.2 839.19 L472.8 834.35 L474.4 829.34 L476 824.16 L477.61 818.81 L479.21 813.27" fill="none" stroke="#5a69b4" stroke-width="2.5" stroke-linejoin="round"/>
<polygon points="170.07,970.27 177.34,982.73 162.8,982.73" fill="#ee8737" stroke="#000" stroke-width="1.7" stroke-linejoin="miter"/>
<polygon points="212.42,971.38 219.69,983.83 205.15,983.83" fill="#ee8737" stroke="#000" stroke-width="1.7" stroke-linejoin="miter"/>
<polygon points="254.77,965.38 262.04,977.83 247.5,977.83" fill="#ee8737" stroke="#000" stroke-width="1.7" stroke-linejoin="miter"/>
<polygon points="297.11,966.77 304.38,979.23 289.84,979.23" fill="#ee8737" stroke="#000" stroke-width="1.7" stroke-linejoin="miter"/>
<polygon points="339.46,960.67 346.73,973.12 332.19,973.12" fill="#ee8737" stroke="#000" stroke-width="1.7" stroke-linejoin="miter"/>
<polygon points="381.81,929.07 389.08,941.52 374.54,941.52" fill="#ee8737" stroke="#000" stroke-width="1.7" stroke-linejoin="miter"/>
<polygon points="424.16,892.47 431.43,904.92 416.89,904.92" fill="#ee8737" stroke="#000" stroke-width="1.7" stroke-linejoin="miter"/>
<line x1="163.8" y1="825.5" x2="214" y2="825.5" stroke="#5a69b4" stroke-width="2.6"/>
<polygon points="188.4,858.95 195.26,871.85 181.54,871.85" fill="#ee8737" stroke="#000" stroke-width="1.6" stroke-linejoin="miter"/>
<text x="224.86" y="833" font-size="25">Simulation</text>
<text x="224.75" y="875" font-size="25">Experiment</text>
<line x1="161.6" y1="1009.2" x2="161.6" y2="1020" stroke="#000" stroke-width="2.5"/>
<text x="155.65" y="1042.9" font-size="21.4">0</text>
<line x1="267.47" y1="1009.2" x2="267.47" y2="1020" stroke="#000" stroke-width="2.5"/>
<path d="M0.248 0H0.343V0.69H0.272C0.258 0.622 0.215 0.588 0.095 0.58V0.512H0.248Z" transform="translate(255.57 1042.9) scale(21.4 -21.4)"/>
<text x="267.47" y="1042.9" font-size="21.4">0</text>
<line x1="373.34" y1="1009.2" x2="373.34" y2="1020" stroke="#000" stroke-width="2.5"/>
<text x="361.44" y="1042.9" font-size="21.4">20</text>
<line x1="479.21" y1="1009.2" x2="479.21" y2="1020" stroke="#000" stroke-width="2.5"/>
<text x="467.31" y="1042.9" font-size="21.4">30</text>
<line x1="214.53" y1="1009.2" x2="214.53" y2="1013.8" stroke="#000" stroke-width="2.5"/>
<line x1="320.4" y1="1009.2" x2="320.4" y2="1013.8" stroke="#000" stroke-width="2.5"/>
<line x1="426.27" y1="1009.2" x2="426.27" y2="1013.8" stroke="#000" stroke-width="2.5"/>
<line x1="502" y1="980.8" x2="512.6" y2="980.8" stroke="#000" stroke-width="2.5"/>
<text x="515.66" y="988.3" font-size="21.4">0.0</text>
<line x1="502" y1="913.75" x2="512.6" y2="913.75" stroke="#000" stroke-width="2.5"/>
<text x="515.66" y="921.25" font-size="21.4">0.5</text>
<line x1="502" y1="846.7" x2="512.6" y2="846.7" stroke="#000" stroke-width="2.5"/>
<path d="M0.248 0H0.343V0.69H0.272C0.258 0.622 0.215 0.588 0.095 0.58V0.512H0.248Z" transform="translate(515.97 854.2) scale(21.4 -21.4)"/>
<text x="527.87" y="854.2" font-size="21.4">.0</text>
<line x1="502" y1="779.65" x2="512.6" y2="779.65" stroke="#000" stroke-width="2.5"/>
<path d="M0.248 0H0.343V0.69H0.272C0.258 0.622 0.215 0.588 0.095 0.58V0.512H0.248Z" transform="translate(515.97 787.15) scale(21.4 -21.4)"/>
<text x="527.87" y="787.15" font-size="21.4">.5</text>
<line x1="502" y1="947.27" x2="507.2" y2="947.27" stroke="#000" stroke-width="2.5"/>
<line x1="502" y1="880.22" x2="507.2" y2="880.22" stroke="#000" stroke-width="2.5"/>
<line x1="502" y1="813.17" x2="507.2" y2="813.17" stroke="#000" stroke-width="2.5"/>
<text x="201.83" y="1066.6" font-size="20.95">Transmission loss (dB)</text>
<text transform="translate(559.6 845.7) rotate(90)" font-size="21.1">QBER (%)</text>
<path d="M131.4 524 H812.4 V1072.7 H131.4 Z" fill="none" stroke="#000" stroke-width="2.8"/>
<line x1="126" y1="524" x2="131.4" y2="524" stroke="#000" stroke-width="2.8"/>
<line x1="173.7" y1="1074.1" x2="173.7" y2="1083.5" stroke="#000" stroke-width="2.5"/>
<text x="165.41" y="1121" font-size="29.8">0</text>
<line x1="386.6" y1="1074.1" x2="386.6" y2="1083.5" stroke="#000" stroke-width="2.5"/>
<path d="M0.248 0H0.343V0.69H0.272C0.258 0.622 0.215 0.588 0.095 0.58V0.512H0.248Z" transform="translate(370.03 1121) scale(29.8 -29.8)"/>
<text x="386.6" y="1121" font-size="29.8">0</text>
<line x1="599.5" y1="1074.1" x2="599.5" y2="1083.5" stroke="#000" stroke-width="2.5"/>
<text x="582.93" y="1121" font-size="29.8">20</text>
<line x1="812.4" y1="1074.1" x2="812.4" y2="1083.5" stroke="#000" stroke-width="2.5"/>
<text x="795.83" y="1121" font-size="29.8">30</text>
<line x1="280.15" y1="1074.1" x2="280.15" y2="1078.6" stroke="#000" stroke-width="2.5"/>
<line x1="493.05" y1="1074.1" x2="493.05" y2="1078.6" stroke="#000" stroke-width="2.5"/>
<line x1="705.95" y1="1074.1" x2="705.95" y2="1078.6" stroke="#000" stroke-width="2.5"/>
<line x1="173.7" y1="522.6" x2="173.7" y2="513.3" stroke="#000" stroke-width="2.5"/>
<text x="165.5" y="501.2" font-size="29.5">0</text>
<line x1="381.95" y1="522.6" x2="381.95" y2="513.3" stroke="#000" stroke-width="2.5"/>
<text x="365.54" y="501.2" font-size="29.5">50</text>
<line x1="590.2" y1="522.6" x2="590.2" y2="513.3" stroke="#000" stroke-width="2.5"/>
<path d="M0.248 0H0.343V0.69H0.272C0.258 0.622 0.215 0.588 0.095 0.58V0.512H0.248Z" transform="translate(565.59 501.2) scale(29.5 -29.5)"/>
<text x="582" y="501.2" font-size="29.5">00</text>
<line x1="798.45" y1="522.6" x2="798.45" y2="513.3" stroke="#000" stroke-width="2.5"/>
<path d="M0.248 0H0.343V0.69H0.272C0.258 0.622 0.215 0.588 0.095 0.58V0.512H0.248Z" transform="translate(773.84 501.2) scale(29.5 -29.5)"/>
<text x="790.25" y="501.2" font-size="29.5">50</text>
<line x1="277.82" y1="522.6" x2="277.82" y2="518.8" stroke="#000" stroke-width="2.5"/>
<line x1="486.07" y1="522.6" x2="486.07" y2="518.8" stroke="#000" stroke-width="2.5"/>
<line x1="694.33" y1="522.6" x2="694.33" y2="518.8" stroke="#000" stroke-width="2.5"/>
<line x1="121" y1="555.4" x2="130" y2="555.4" stroke="#000" stroke-width="2.5"/>
<path d="M0.248 0H0.343V0.69H0.272C0.258 0.622 0.215 0.588 0.095 0.58V0.512H0.248Z" transform="translate(50.24 560.3) scale(29.5 -29.5)"/>
<text x="66.65" y="560.3" font-size="29.5">0</text>
<rect x="83.8" y="541.2" width="12.1" height="1.6" fill="#000"/>
<text x="94.53" y="547.8" font-size="21.3">2</text>
<line x1="126" y1="524.26" x2="130" y2="524.26" stroke="#000" stroke-width="2.2"/>
<line x1="121" y1="658.84" x2="130" y2="658.84" stroke="#000" stroke-width="2.5"/>
<path d="M0.248 0H0.343V0.69H0.272C0.258 0.622 0.215 0.588 0.095 0.58V0.512H0.248Z" transform="translate(50.24 663.74) scale(29.5 -29.5)"/>
<text x="66.65" y="663.74" font-size="29.5">0</text>
<rect x="83.8" y="644.64" width="12.1" height="1.6" fill="#000"/>
<text x="94.79" y="651.24" font-size="21.3">3</text>
<line x1="126" y1="627.7" x2="130" y2="627.7" stroke="#000" stroke-width="2.2"/>
<line x1="126" y1="609.49" x2="130" y2="609.49" stroke="#000" stroke-width="2.2"/>
<line x1="126" y1="596.56" x2="130" y2="596.56" stroke="#000" stroke-width="2.2"/>
<line x1="126" y1="586.54" x2="130" y2="586.54" stroke="#000" stroke-width="2.2"/>
<line x1="126" y1="578.35" x2="130" y2="578.35" stroke="#000" stroke-width="2.2"/>
<line x1="126" y1="571.42" x2="130" y2="571.42" stroke="#000" stroke-width="2.2"/>
<line x1="126" y1="565.42" x2="130" y2="565.42" stroke="#000" stroke-width="2.2"/>
<line x1="126" y1="560.13" x2="130" y2="560.13" stroke="#000" stroke-width="2.2"/>
<line x1="121" y1="762.28" x2="130" y2="762.28" stroke="#000" stroke-width="2.5"/>
<path d="M0.248 0H0.343V0.69H0.272C0.258 0.622 0.215 0.588 0.095 0.58V0.512H0.248Z" transform="translate(50.24 767.18) scale(29.5 -29.5)"/>
<text x="66.65" y="767.18" font-size="29.5">0</text>
<rect x="83.8" y="748.08" width="12.1" height="1.6" fill="#000"/>
<text x="95.11" y="754.68" font-size="21.3">4</text>
<line x1="126" y1="731.14" x2="130" y2="731.14" stroke="#000" stroke-width="2.2"/>
<line x1="126" y1="712.93" x2="130" y2="712.93" stroke="#000" stroke-width="2.2"/>
<line x1="126" y1="700" x2="130" y2="700" stroke="#000" stroke-width="2.2"/>
<line x1="126" y1="689.98" x2="130" y2="689.98" stroke="#000" stroke-width="2.2"/>
<line x1="126" y1="681.79" x2="130" y2="681.79" stroke="#000" stroke-width="2.2"/>
<line x1="126" y1="674.86" x2="130" y2="674.86" stroke="#000" stroke-width="2.2"/>
<line x1="126" y1="668.86" x2="130" y2="668.86" stroke="#000" stroke-width="2.2"/>
<line x1="126" y1="663.57" x2="130" y2="663.57" stroke="#000" stroke-width="2.2"/>
<line x1="121" y1="865.72" x2="130" y2="865.72" stroke="#000" stroke-width="2.5"/>
<path d="M0.248 0H0.343V0.69H0.272C0.258 0.622 0.215 0.588 0.095 0.58V0.512H0.248Z" transform="translate(50.24 870.62) scale(29.5 -29.5)"/>
<text x="66.65" y="870.62" font-size="29.5">0</text>
<rect x="83.8" y="851.52" width="12.1" height="1.6" fill="#000"/>
<text x="94.75" y="858.12" font-size="21.3">5</text>
<line x1="126" y1="834.58" x2="130" y2="834.58" stroke="#000" stroke-width="2.2"/>
<line x1="126" y1="816.37" x2="130" y2="816.37" stroke="#000" stroke-width="2.2"/>
<line x1="126" y1="803.44" x2="130" y2="803.44" stroke="#000" stroke-width="2.2"/>
<line x1="126" y1="793.42" x2="130" y2="793.42" stroke="#000" stroke-width="2.2"/>
<line x1="126" y1="785.23" x2="130" y2="785.23" stroke="#000" stroke-width="2.2"/>
<line x1="126" y1="778.3" x2="130" y2="778.3" stroke="#000" stroke-width="2.2"/>
<line x1="126" y1="772.3" x2="130" y2="772.3" stroke="#000" stroke-width="2.2"/>
<line x1="126" y1="767.01" x2="130" y2="767.01" stroke="#000" stroke-width="2.2"/>
<line x1="121" y1="969.16" x2="130" y2="969.16" stroke="#000" stroke-width="2.5"/>
<path d="M0.248 0H0.343V0.69H0.272C0.258 0.622 0.215 0.588 0.095 0.58V0.512H0.248Z" transform="translate(50.24 974.06) scale(29.5 -29.5)"/>
<text x="66.65" y="974.06" font-size="29.5">0</text>
<rect x="83.8" y="954.96" width="12.1" height="1.6" fill="#000"/>
<text x="94.52" y="961.56" font-size="21.3">6</text>
<line x1="126" y1="938.02" x2="130" y2="938.02" stroke="#000" stroke-width="2.2"/>
<line x1="126" y1="919.81" x2="130" y2="919.81" stroke="#000" stroke-width="2.2"/>
<line x1="126" y1="906.88" x2="130" y2="906.88" stroke="#000" stroke-width="2.2"/>
<line x1="126" y1="896.86" x2="130" y2="896.86" stroke="#000" stroke-width="2.2"/>
<line x1="126" y1="888.67" x2="130" y2="888.67" stroke="#000" stroke-width="2.2"/>
<line x1="126" y1="881.74" x2="130" y2="881.74" stroke="#000" stroke-width="2.2"/>
<line x1="126" y1="875.74" x2="130" y2="875.74" stroke="#000" stroke-width="2.2"/>
<line x1="126" y1="870.45" x2="130" y2="870.45" stroke="#000" stroke-width="2.2"/>
<line x1="121" y1="1072.6" x2="130" y2="1072.6" stroke="#000" stroke-width="2.5"/>
<path d="M0.248 0H0.343V0.69H0.272C0.258 0.622 0.215 0.588 0.095 0.58V0.512H0.248Z" transform="translate(50.24 1077.5) scale(29.5 -29.5)"/>
<text x="66.65" y="1077.5" font-size="29.5">0</text>
<rect x="83.8" y="1058.4" width="12.1" height="1.6" fill="#000"/>
<text x="94.51" y="1065" font-size="21.3">7</text>
<line x1="126" y1="1041.46" x2="130" y2="1041.46" stroke="#000" stroke-width="2.2"/>
<line x1="126" y1="1023.25" x2="130" y2="1023.25" stroke="#000" stroke-width="2.2"/>
<line x1="126" y1="1010.32" x2="130" y2="1010.32" stroke="#000" stroke-width="2.2"/>
<line x1="126" y1="1000.3" x2="130" y2="1000.3" stroke="#000" stroke-width="2.2"/>
<line x1="126" y1="992.11" x2="130" y2="992.11" stroke="#000" stroke-width="2.2"/>
<line x1="126" y1="985.18" x2="130" y2="985.18" stroke="#000" stroke-width="2.2"/>
<line x1="126" y1="979.18" x2="130" y2="979.18" stroke="#000" stroke-width="2.2"/>
<line x1="126" y1="973.89" x2="130" y2="973.89" stroke="#000" stroke-width="2.2"/>
<line x1="813.8" y1="1006" x2="821.5" y2="1006" stroke="#000" stroke-width="2.5"/>
<path d="M0.248 0H0.343V0.69H0.272C0.258 0.622 0.215 0.588 0.095 0.58V0.512H0.248Z" transform="translate(832.67 1012.5) scale(29.8 -29.8)"/>
<text x="849.24" y="1012.5" font-size="29.8">0</text>
<text x="865.52" y="999.7" font-size="21.4">2</text>
<line x1="813.8" y1="902.56" x2="821.5" y2="902.56" stroke="#000" stroke-width="2.5"/>
<path d="M0.248 0H0.343V0.69H0.272C0.258 0.622 0.215 0.588 0.095 0.58V0.512H0.248Z" transform="translate(832.67 909.06) scale(29.8 -29.8)"/>
<text x="849.24" y="909.06" font-size="29.8">0</text>
<text x="865.78" y="896.26" font-size="21.4">3</text>
<line x1="813.8" y1="799.12" x2="821.5" y2="799.12" stroke="#000" stroke-width="2.5"/>
<path d="M0.248 0H0.343V0.69H0.272C0.258 0.622 0.215 0.588 0.095 0.58V0.512H0.248Z" transform="translate(832.67 805.62) scale(29.8 -29.8)"/>
<text x="849.24" y="805.62" font-size="29.8">0</text>
<text x="866.11" y="792.82" font-size="21.4">4</text>
<line x1="813.8" y1="695.68" x2="821.5" y2="695.68" stroke="#000" stroke-width="2.5"/>
<path d="M0.248 0H0.343V0.69H0.272C0.258 0.622 0.215 0.588 0.095 0.58V0.512H0.248Z" transform="translate(832.67 702.18) scale(29.8 -29.8)"/>
<text x="849.24" y="702.18" font-size="29.8">0</text>
<text x="865.74" y="689.38" font-size="21.4">5</text>
<line x1="813.8" y1="592.24" x2="821.5" y2="592.24" stroke="#000" stroke-width="2.5"/>
<path d="M0.248 0H0.343V0.69H0.272C0.258 0.622 0.215 0.588 0.095 0.58V0.512H0.248Z" transform="translate(832.67 598.74) scale(29.8 -29.8)"/>
<text x="849.24" y="598.74" font-size="29.8">0</text>
<text x="865.51" y="585.94" font-size="21.4">6</text>
<line x1="813.8" y1="1060.09" x2="817" y2="1060.09" stroke="#000" stroke-width="2.2"/>
<line x1="813.8" y1="1047.16" x2="817" y2="1047.16" stroke="#000" stroke-width="2.2"/>
<line x1="813.8" y1="1037.14" x2="817" y2="1037.14" stroke="#000" stroke-width="2.2"/>
<line x1="813.8" y1="1028.95" x2="817" y2="1028.95" stroke="#000" stroke-width="2.2"/>
<line x1="813.8" y1="1022.02" x2="817" y2="1022.02" stroke="#000" stroke-width="2.2"/>
<line x1="813.8" y1="1016.02" x2="817" y2="1016.02" stroke="#000" stroke-width="2.2"/>
<line x1="813.8" y1="1010.73" x2="817" y2="1010.73" stroke="#000" stroke-width="2.2"/>
<line x1="813.8" y1="974.86" x2="817" y2="974.86" stroke="#000" stroke-width="2.2"/>
<line x1="813.8" y1="956.65" x2="817" y2="956.65" stroke="#000" stroke-width="2.2"/>
<line x1="813.8" y1="943.72" x2="817" y2="943.72" stroke="#000" stroke-width="2.2"/>
<line x1="813.8" y1="933.7" x2="817" y2="933.7" stroke="#000" stroke-width="2.2"/>
<line x1="813.8" y1="925.51" x2="817" y2="925.51" stroke="#000" stroke-width="2.2"/>
<line x1="813.8" y1="918.58" x2="817" y2="918.58" stroke="#000" stroke-width="2.2"/>
<line x1="813.8" y1="912.58" x2="817" y2="912.58" stroke="#000" stroke-width="2.2"/>
<line x1="813.8" y1="907.29" x2="817" y2="907.29" stroke="#000" stroke-width="2.2"/>
<line x1="813.8" y1="871.42" x2="817" y2="871.42" stroke="#000" stroke-width="2.2"/>
<line x1="813.8" y1="853.21" x2="817" y2="853.21" stroke="#000" stroke-width="2.2"/>
<line x1="813.8" y1="840.28" x2="817" y2="840.28" stroke="#000" stroke-width="2.2"/>
<line x1="813.8" y1="830.26" x2="817" y2="830.26" stroke="#000" stroke-width="2.2"/>
<line x1="813.8" y1="822.07" x2="817" y2="822.07" stroke="#000" stroke-width="2.2"/>
<line x1="813.8" y1="815.14" x2="817" y2="815.14" stroke="#000" stroke-width="2.2"/>
<line x1="813.8" y1="809.14" x2="817" y2="809.14" stroke="#000" stroke-width="2.2"/>
<line x1="813.8" y1="803.85" x2="817" y2="803.85" stroke="#000" stroke-width="2.2"/>
<line x1="813.8" y1="767.98" x2="817" y2="767.98" stroke="#000" stroke-width="2.2"/>
<line x1="813.8" y1="749.77" x2="817" y2="749.77" stroke="#000" stroke-width="2.2"/>
<line x1="813.8" y1="736.84" x2="817" y2="736.84" stroke="#000" stroke-width="2.2"/>
<line x1="813.8" y1="726.82" x2="817" y2="726.82" stroke="#000" stroke-width="2.2"/>
<line x1="813.8" y1="718.63" x2="817" y2="718.63" stroke="#000" stroke-width="2.2"/>
<line x1="813.8" y1="711.7" x2="817" y2="711.7" stroke="#000" stroke-width="2.2"/>
<line x1="813.8" y1="705.7" x2="817" y2="705.7" stroke="#000" stroke-width="2.2"/>
<line x1="813.8" y1="700.41" x2="817" y2="700.41" stroke="#000" stroke-width="2.2"/>
<line x1="813.8" y1="664.54" x2="817" y2="664.54" stroke="#000" stroke-width="2.2"/>
<line x1="813.8" y1="646.33" x2="817" y2="646.33" stroke="#000" stroke-width="2.2"/>
<line x1="813.8" y1="633.4" x2="817" y2="633.4" stroke="#000" stroke-width="2.2"/>
<line x1="813.8" y1="623.38" x2="817" y2="623.38" stroke="#000" stroke-width="2.2"/>
<line x1="813.8" y1="615.19" x2="817" y2="615.19" stroke="#000" stroke-width="2.2"/>
<line x1="813.8" y1="608.26" x2="817" y2="608.26" stroke="#000" stroke-width="2.2"/>
<line x1="813.8" y1="602.26" x2="817" y2="602.26" stroke="#000" stroke-width="2.2"/>
<line x1="813.8" y1="596.97" x2="817" y2="596.97" stroke="#000" stroke-width="2.2"/>
<line x1="813.8" y1="561.1" x2="817" y2="561.1" stroke="#000" stroke-width="2.2"/>
<line x1="813.8" y1="542.89" x2="817" y2="542.89" stroke="#000" stroke-width="2.2"/>
<line x1="813.8" y1="529.96" x2="817" y2="529.96" stroke="#000" stroke-width="2.2"/>
<text x="379.3" y="458.7" font-size="29.3">Distance (km)</text>
<text x="321.54" y="1167" font-size="29.3">Transmission loss (dB)</text>
<text transform="translate(24.9 887.1) rotate(-90)" font-size="29.3">Bits per pulse</text>
<text transform="translate(905.6 709.67) rotate(90)" font-size="29.3">SKR (bits s</text>
<rect x="919.9" y="855.2" width="1.9" height="11.4" fill="#000"/>
<path d="M0.248 0H0.343V0.69H0.272C0.258 0.622 0.215 0.588 0.095 0.58V0.512H0.248Z" transform="translate(915.1 867) rotate(90) scale(21 -21)"/>
<text transform="translate(905.6 880.03) rotate(90)" font-size="29.3">)</text>
</svg></body></html>
